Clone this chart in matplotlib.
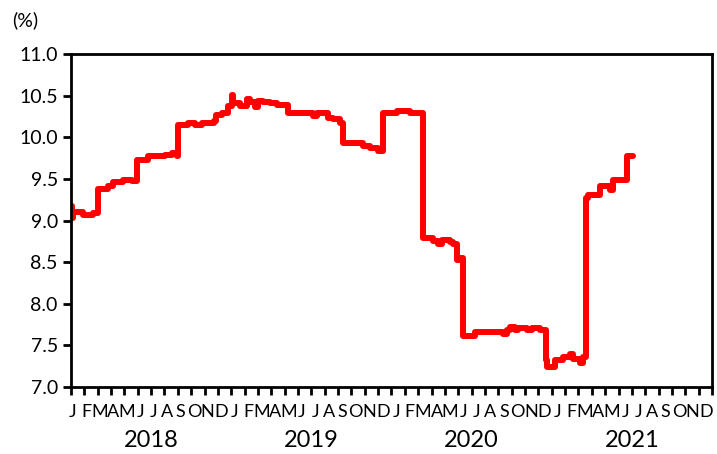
import matplotlib
matplotlib.use("Agg")
import matplotlib.pyplot as plt
import numpy as np

plt.rcParams['font.family'] = ['Lato', 'DejaVu Sans']

# breakpoints: months since Jan 2018 (float) and rate (%), drawn as steps
months = [0.0, 0.05, 0.12, 0.92, 1.67, 2.05, 2.80, 3.17, 3.92, 4.54,
          4.92, 5.79, 7.04, 7.54, 7.91, 8.04, 8.78, 9.29, 9.79, 10.70,
          10.85, 11.28, 11.78, 12.03, 12.15, 12.66, 13.16, 13.40, 13.78, 14.03,
          14.40, 14.90, 15.40, 16.27, 18.15, 18.40, 19.27, 19.64, 20.14, 20.34,
          21.89, 22.39, 23.01, 23.36, 24.39, 25.39, 26.38, 27.13, 27.51, 27.76,
          28.38, 28.63, 28.93, 29.13, 29.38, 30.25, 32.37, 32.62, 32.87, 33.25,
          33.50, 34.12, 34.50, 35.12, 35.57, 35.62, 36.24, 36.87, 37.37, 37.62,
          38.12, 38.36, 38.57, 38.74, 39.61, 40.36, 40.61, 41.61, 42.08]
rate = [9.18, 9.03, 9.10, 9.07, 9.09, 9.38, 9.41, 9.46, 9.49, 9.47,
        9.73, 9.77, 9.79, 9.81, 9.77, 10.15, 10.17, 10.15, 10.17, 10.19,
        10.27, 10.29, 10.37, 10.51, 10.41, 10.38, 10.46, 10.42, 10.36, 10.44,
        10.42, 10.41, 10.39, 10.29, 10.25, 10.29, 10.23, 10.22, 10.17, 9.93,
        9.89, 9.87, 9.84, 10.29, 10.31, 10.29, 8.79, 8.75, 8.72, 8.77,
        8.74, 8.72, 8.52, 8.55, 7.61, 7.66, 7.64, 7.68, 7.72, 7.68,
        7.71, 7.68, 7.71, 7.69, 7.32, 7.24, 7.32, 7.36, 7.40, 7.34,
        7.29, 7.36, 9.27, 9.31, 9.41, 9.37, 9.49, 9.77, 9.77]

month_labels = list("JFMAMJJASOND") * 4
years = ["2018", "2019", "2020", "2021"]

fig = plt.figure(figsize=(7.17, 4.54), dpi=100)
ax = fig.add_axes([0.099, 0.1476, 0.894, 0.7334])

ax.plot(months, rate, color='#ff0000', lw=4.3, drawstyle='steps-post',
        solid_joinstyle='round', solid_capstyle='round')

ax.set_xlim(0, 48)
ax.set_ylim(7.0, 11.0)
ax.set_yticks(np.arange(7.0, 11.01, 0.5))
ax.set_yticklabels([f"{v:.1f}" for v in np.arange(7.0, 11.01, 0.5)], fontsize=14)
ax.set_xticks(np.arange(0, 49))
ax.set_xticklabels([])
ax.tick_params(axis='both', direction='out', width=2, length=6, color='black')
for sp in ax.spines.values():
    sp.set_linewidth(2)

tr = ax.get_xaxis_transform()
for i, lab in enumerate(month_labels):
    ax.text(0.15 + i * 47.4 / 47, -0.075, lab, transform=tr, ha='center',
            va='center', fontsize=13, clip_on=False)
for k, yr in enumerate(years):
    ax.text(12 * k + 6, -0.162, yr, transform=tr, ha='center', va='center',
            fontsize=17, clip_on=False)

fig.text(0.035, 0.955, "(%)", ha='center', va='center', fontsize=14)

fig.savefig("out.png", dpi=100)
